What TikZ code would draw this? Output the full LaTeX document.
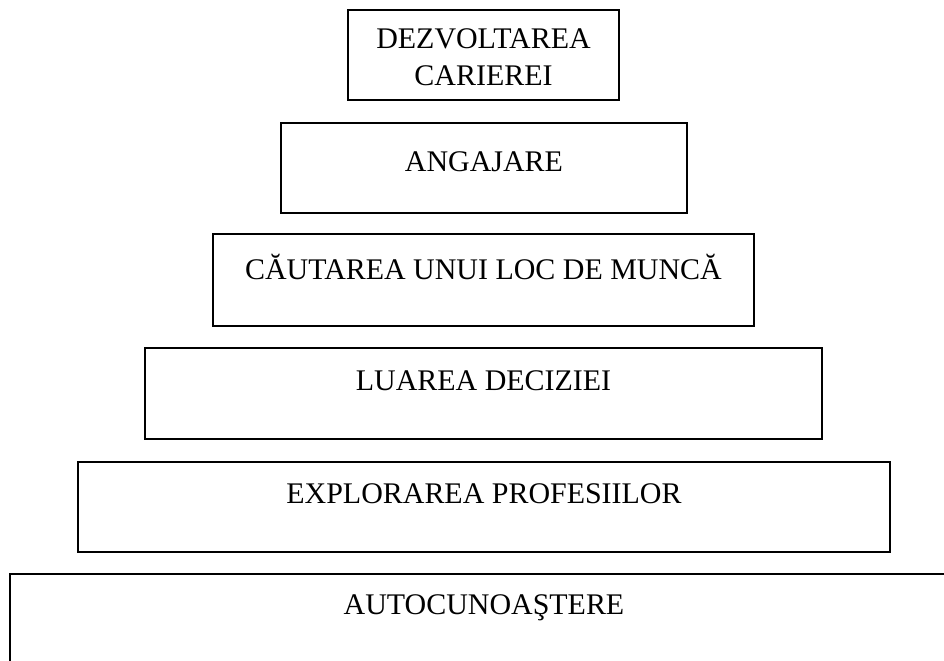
\documentclass[tikz,border=0pt]{standalone}
\usepackage{fontspec}
\setmainfont{Liberation Serif}
\begin{document}
\begin{tikzpicture}
    % Stiluri
    \tikzset{
        treapta/.style={rectangle, draw, line width=1.2pt, inner sep=0pt},
        eticheta/.style={font=\fontsize{21.3}{26.5}\selectfont,
                        text centered, inner sep=0pt}
    }
    \useasboundingbox (0,0) rectangle (23.6,16.5);
    \clip (0,0) rectangle (23.6,16.5);

    % Treptele piramidei
    \node[treapta, minimum width=6.775cm, minimum height=2.25cm] (cariera) at (12.0875,15.125) {};
    \node[treapta, minimum width=10.15cm, minimum height=2.25cm] (angajare) at (12.1,12.3) {};
    \node[treapta, minimum width=13.525cm, minimum height=2.3cm] (cautare) at (12.0875,9.5) {};
    \node[treapta, minimum width=16.925cm, minimum height=2.275cm] (decizie) at (12.0875,6.6625) {};
    \node[treapta, minimum width=20.3cm, minimum height=2.25cm] (explorare) at (12.1,3.825) {};
    \node[treapta, minimum width=23.7cm, minimum height=2.25cm] (autocun) at (12.1,1.025) {};

    % Texte
    \node[eticheta, align=center] (tcariera) at ([yshift=-0.06cm]cariera.center) {DEZVOLTAREA\\CARIEREI};
    \node[eticheta, anchor=base] (tangajare) at ([yshift=-1.23cm]angajare.north) {ANGAJARE};
    \node[eticheta, anchor=base] (tcautare) at ([yshift=-1.16cm]cautare.north) {CĂUTAREA UNUI LOC DE MUNCĂ};
    \node[eticheta, anchor=base] (tdecizie) at ([yshift=-1.08cm]decizie.north) {LUAREA DECIZIEI};
    \node[eticheta, anchor=base] (texplorare) at ([yshift=-1.06cm]explorare.north) {EXPLORAREA PROFESIILOR};
    \node[eticheta, anchor=base] (tautocun) at ([yshift=-1.03cm]autocun.north) {AUTOCUNOAŞTERE};
\end{tikzpicture}
\end{document}
